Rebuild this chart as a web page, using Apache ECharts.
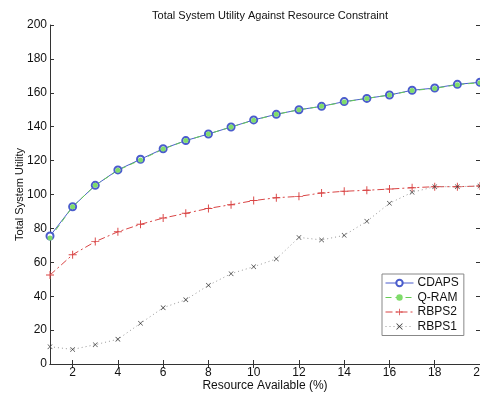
<!DOCTYPE html>
<html>
<head>
<meta charset="utf-8">
<script src="https://cdn.jsdelivr.net/npm/echarts@6/dist/echarts.min.js"></script>
<style>
html,body{margin:0;padding:0;background:#fff;}
#main{width:480px;height:394px;}
</style>
</head>
<body>
<div id="main"></div>
<script>
//横轴: 可用资源(%)
var resource = [1,2,3,4,5,6,7,8,9,10,11,12,13,14,15,16,17,18,19,20];
var xTicks = [2,4,6,8,10,12,14,16,18,20];
//各算法的系统效用
var cdaps = [75.5,92.8,105.4,114.5,120.8,127,131.8,135.7,139.8,144,147.3,150,152,154.8,156.7,158.7,161.5,162.8,165,166.2];
var qram = [74.3,92.8,105.4,114.3,120.4,126.8,131.8,135.7,139.8,143.8,147.3,150,152,154.6,156.7,158.7,161.3,162.6,164.8,166];
var rbps2 = [52.5,64.5,72.2,78,82.4,86.1,88.9,91.8,94,96.4,98.1,98.9,100.9,101.9,102.5,103.2,104,104.6,104.6,105];
var rbps1 = [10.2,8.6,11.4,14.6,24,33.2,37.9,46.4,53.3,57.4,62,74.7,73.2,75.9,84.2,94.8,101.3,104.6,104.6,105];

var plusPath = 'path://M0,4.4L10,4.4L10,5.6L0,5.6Z M4.4,0L5.6,0L5.6,10L4.4,10Z';
var crossPath = 'path://M0.8,0L5,4.2L9.2,0L10,0.8L5.8,5L10,9.2L9.2,10L5,5.8L0.8,10L0,9.2L4.2,5L0,0.8Z';

function pairs(values)
{
	var out = [];
	for(var i = 0;i < resource.length;i++)
	{
		out.push([resource[i], values[i]]);
	}
	return out;
}

var font = 'Liberation Sans, Arial, sans-serif';
var axisColor = '#333';

var myChart = echarts.init(document.getElementById('main'));
var option = {
	backgroundColor: '#fff',
	animation: false,
	title: {
		text: 'Total System Utility Against Resource Constraint',
		left: 265,
		textAlign: 'center',
		top: 5,
		textStyle: {fontFamily: font, fontSize: 11, fontWeight: 'normal', color: '#111'}
	},
	legend: {
		orient: 'vertical',
		left: 382,
		top: 274,
		padding: [3, 5, 3, 3],
		itemGap: 2.5,
		itemWidth: 28,
		itemHeight: 8,
		backgroundColor: '#fff',
		borderColor: '#888',
		borderWidth: 1,
		lineStyle: {width: 1},
		itemStyle: {borderWidth: 1},
		textStyle: {fontFamily: font, fontSize: 12, color: '#111', padding: [0, 0, 0, -1]},
		data: ['CDAPS','Q-RAM','RBPS2','RBPS1']
	},
	grid: {left: 50, right: 0, top: 25, bottom: 30, containLabel: false, outerBoundsMode: 'none'},
	xAxis: [{
		type: 'value',
		min: 1,
		max: 20,
		name: 'Resource Available (%)',
		nameLocation: 'middle',
		nameGap: 16,
		nameMoveOverlap: false,
		nameTextStyle: {fontFamily: font, fontSize: 12, color: '#111'},
		axisLine: {lineStyle: {color: axisColor}},
		axisTick: {inside: true, length: 4, customValues: xTicks, lineStyle: {color: axisColor}},
		axisLabel: {customValues: xTicks, fontFamily: font, fontSize: 12, color: '#111', margin: 3},
		splitLine: {show: false}
	},{
		type: 'value',
		position: 'top',
		min: 1,
		max: 20,
		axisLine: {lineStyle: {color: axisColor}},
		axisTick: {inside: true, length: 4, customValues: xTicks, lineStyle: {color: axisColor}},
		axisLabel: {show: false},
		splitLine: {show: false}
	}],
	yAxis: [{
		type: 'value',
		min: 0,
		max: 200,
		interval: 20,
		name: 'Total System Utility',
		nameLocation: 'middle',
		nameGap: 25,
		nameMoveOverlap: false,
		nameTextStyle: {fontFamily: font, fontSize: 11, color: '#111'},
		axisLine: {show: true, lineStyle: {color: axisColor}},
		axisTick: {show: true, inside: true, length: 4, lineStyle: {color: axisColor}},
		axisLabel: {fontFamily: font, fontSize: 12, color: '#111', margin: 3},
		splitLine: {show: false}
	},{
		type: 'value',
		position: 'right',
		min: 0,
		max: 200,
		interval: 20,
		axisLine: {show: true, lineStyle: {color: axisColor}},
		axisTick: {show: true, inside: true, length: 4, lineStyle: {color: axisColor}},
		axisLabel: {show: false},
		splitLine: {show: false}
	}],
	series: [{
		name: 'CDAPS',
		type: 'line',
		data: pairs(cdaps),
		symbol: 'emptyCircle',
		symbolSize: 7,
		lineStyle: {color: '#4a5ccc', width: 1},
		itemStyle: {color: '#4a5ccc', borderWidth: 1}
	},{
		name: 'Q-RAM',
		type: 'line',
		data: pairs(qram),
		symbol: 'circle',
		symbolSize: 5,
		lineStyle: {color: '#66cc55', width: 1, type: [6, 4]},
		itemStyle: {color: '#7fdc6a'}
	},{
		name: 'RBPS2',
		type: 'line',
		data: pairs(rbps2),
		symbol: plusPath,
		symbolSize: 8,
		lineStyle: {color: '#d94545', width: 1, type: [7, 3, 2, 3]},
		itemStyle: {color: '#d94545'}
	},{
		name: 'RBPS1',
		type: 'line',
		data: pairs(rbps1),
		symbol: crossPath,
		symbolSize: 5,
		lineStyle: {color: '#999', width: 1, type: [1, 3]},
		itemStyle: {color: '#333'}
	}]
};
myChart.setOption(option);
</script>
</body>
</html>
